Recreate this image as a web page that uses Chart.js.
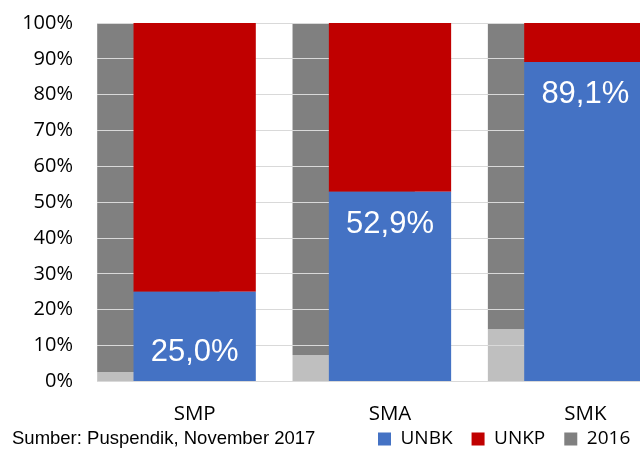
<!DOCTYPE html>
<html>
<head>
<meta charset="utf-8">
<script src="https://cdn.jsdelivr.net/npm/chart.js@4/dist/chart.umd.min.js"></script>
<style>
html,body{margin:0;padding:0;overflow:hidden;background:#fff;width:640px;height:467px;}
#wrap{position:relative;width:700px;height:467px;}
#src{position:absolute;left:12px;top:427px;font-family:"Liberation Sans",Arial,sans-serif;font-size:18.5px;color:#000;white-space:nowrap;line-height:22px;}
</style>
</head>
<body>
<div id="wrap">
<canvas id="c" width="700" height="467"></canvas>
<div id="src">Sumber: Puspendik, November 2017</div>
</div>
<script>
// ---- data ----
const categories = ['SMP', 'SMA', 'SMK'];
const unbk2017 = [25.0, 52.9, 89.1];
const unkp2017 = [75.0, 47.1, 10.9];
const unbk2016 = [2.5, 7.4, 14.5];
const unkp2016 = [97.5, 92.6, 85.5];
const seriesNames = ['UNBK', 'UNKP', '2016 UNBK', '2016'];
const yTickValues = [0, 10, 20, 30, 40, 50, 60, 70, 80, 90, 100];
const yTickLabels = ['0%', '10%', '20%', '30%', '40%', '50%', '60%', '70%', '80%', '90%', '100%'];

// ---- styles / layout ----
const CANVAS_W = 700;
const PLOT_RIGHT = 683;
const GREY_SHIFT = 0.186;
const BAR_PCT = 0.626;
const COLORS = { unbk: '#4472C4', unkp: '#C00000', grey: '#808080', lightGrey: '#BFBFBF', grid: '#D9D9D9' };

const fmtPct = v => v.toFixed(1).replace('.', ',') + '%';

// redraw the horizontal grid over the grey 2016 bars (but below the 2017 bars)
const gridOverGrey = {
  id: 'gridOverGrey',
  beforeDatasetDraw(chart, args) {
    if (args.index === 1) {
      const s = chart.scales.y;
      s._gridLineItems = null;
      s.drawGrid(chart.chartArea);
    }
  }
};

const valueLabels = {
  id: 'valueLabels',
  afterDatasetsDraw(chart, args, opts) {
    const meta = chart.getDatasetMeta(0);
    const ctx = chart.ctx;
    ctx.save();
    ctx.font = opts.font;
    ctx.fillStyle = opts.color;
    ctx.textAlign = 'center';
    ctx.textBaseline = 'middle';
    meta.data.forEach((el, i) => {
      ctx.fillText(fmtPct(unbk2017[i]), el.x, el.y + opts.offsets[i]);
    });
    ctx.restore();
  }
};

const legendPlacement = {
  id: 'legendPlacement',
  afterLayout(chart, args, opts) {
    const lg = chart.legend;
    const w = lg.right - lg.left, h = lg.bottom - lg.top;
    lg.left = opts.left; lg.right = opts.left + w;
    lg.top = opts.top; lg.bottom = opts.top + h;
  }
};

function build() {
  Chart.defaults.font.family = '"Open Sans", sans-serif';
  Chart.defaults.color = '#000';
  const common = { borderWidth: 0, grouped: false, barPercentage: BAR_PCT, categoryPercentage: 1 };
  new Chart(document.getElementById('c'), {
    type: 'bar',
    data: {
      labels: categories,
      datasets: [
        Object.assign({ label: seriesNames[0], data: unbk2017, backgroundColor: COLORS.unbk, xAxisID: 'x' }, common),
        Object.assign({ label: seriesNames[1], data: unkp2017, backgroundColor: COLORS.unkp, xAxisID: 'x' }, common),
        Object.assign({ label: seriesNames[2], data: categories.map((c, i) => ({ x: i, y: unbk2016[i] })),
          backgroundColor: COLORS.lightGrey, xAxisID: 'x2' }, common),
        Object.assign({ label: seriesNames[3], data: categories.map((c, i) => ({ x: i, y: unkp2016[i] })),
          backgroundColor: COLORS.grey, xAxisID: 'x2' }, common)
      ]
    },
    options: {
      responsive: false,
      animation: false,
      devicePixelRatio: 1,
      layout: { padding: { top: 23, left: 0, right: CANVAS_W - PLOT_RIGHT, bottom: -28 } },
      scales: {
        x: {
          stacked: true,
          grid: { display: false, drawTicks: false },
          border: { display: false },
          ticks: { padding: 20.5, font: { size: 20.5 }, color: '#000', maxRotation: 0 }
        },
        x2: {
          type: 'linear',
          display: false,
          offset: false,
          stacked: true,
          min: -0.5 + GREY_SHIFT,
          max: categories.length - 0.5 + GREY_SHIFT,
          afterBuildTicks: s => { s.ticks = categories.map((c, i) => ({ value: i })); }
        },
        y: {
          stacked: true,
          min: 0,
          max: 100,
          grid: { color: COLORS.grid, lineWidth: 1, drawTicks: true, tickLength: 24, tickColor: 'rgba(0,0,0,0)' },
          border: { display: false },
          ticks: {
            stepSize: 10,
            padding: 0,
            font: { size: 20 },
            color: '#000',
            callback: (v) => { const k = yTickValues.indexOf(v); return k >= 0 ? yTickLabels[k] : ''; }
          },
          afterFit: s => { s.width = 97; }
        }
      },
      plugins: {
        legend: {
          position: 'bottom',
          align: 'start',
          labels: {
            boxWidth: 13,
            boxHeight: 13,
            padding: 19,
            font: { size: 19 },
            color: '#000',
            filter: (item) => item.datasetIndex !== 2
          }
        },
        legendPlacement: { left: 359, top: 410.5 },
        tooltip: { enabled: false },
        valueLabels: { font: '31px "Liberation Sans", Arial, sans-serif', color: '#FFFFFF', offsets: [61, 33, 32] }
      }
    },
    plugins: [gridOverGrey, valueLabels, legendPlacement]
  });
}

const fontsReady = document.fonts && document.fonts.load
  ? Promise.all([
      document.fonts.load('20px "Open Sans"'),
      document.fonts.load('31px "Liberation Sans"')
    ]).catch(() => {})
  : Promise.resolve();
fontsReady.then(build);
</script>
</body>
</html>
